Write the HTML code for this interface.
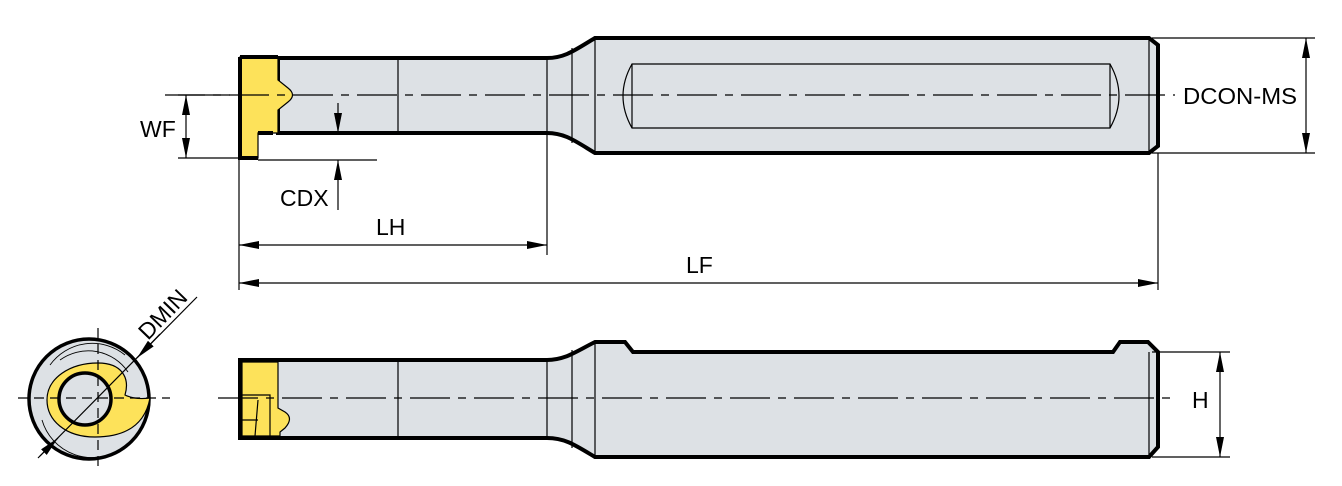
<!DOCTYPE html>
<html><head><meta charset="utf-8"><style>
html,body{margin:0;padding:0;background:#fff}
svg{display:block}
text{font-family:"Liberation Sans",sans-serif;font-size:23px;fill:#000}
</style></head><body>
<svg width="1342" height="486" viewBox="0 0 1342 486" xmlns="http://www.w3.org/2000/svg">
<defs>
<marker id="a" viewBox="0 0 20 8" refX="20" refY="4" markerWidth="20" markerHeight="8" markerUnits="userSpaceOnUse" orient="auto-start-reverse"><path d="M0,0 L20,4 L0,8 Z" fill="#000"/></marker>
</defs>
<g stroke="#000" fill="none">
<!-- TOP VIEW -->
<path d="M278,58 L547,58 C565,58 575,50 595,38 L1149,38 L1158,45 L1158,146 L1149,153 L595,153 C575,141 565,133 547,133 L278,133 Z" fill="#dde1e5" stroke-width="4"/>
<line x1="398" y1="58" x2="398" y2="133" stroke-width="1.2"/>
<line x1="547" y1="58" x2="547" y2="133" stroke-width="1.2"/>
<line x1="572" y1="48" x2="572" y2="143" stroke-width="1.2"/>
<line x1="595" y1="38" x2="595" y2="153" stroke-width="1.2"/>
<line x1="1149" y1="38" x2="1149" y2="153" stroke-width="1.2"/>
<path d="M632,64 L1110,64 Q1128,96 1110,128 L632,128 Q614,96 632,64 Z" stroke-width="1.2"/>
<line x1="632" y1="64" x2="632" y2="128" stroke-width="1.2"/>
<line x1="1110" y1="64" x2="1110" y2="128" stroke-width="1.2"/>
<path d="M240,57 L278,57 L278,80 L288,88 Q297,95 288,102 L278,110 L278,133 L258,133 L258,158 L240,158 Z" fill="#fde25a" stroke-width="1.2"/>
<path d="M240,57 L278,57 M240,57 L240,158 L258,158 M258,133 L273,133" stroke-width="4"/>
<line x1="165" y1="95" x2="1175" y2="95" stroke-width="1.2" stroke-dasharray="40,8,8,8"/>
<line x1="178" y1="95" x2="230" y2="95" stroke-width="1.2"/>
<line x1="178" y1="158" x2="240" y2="158" stroke-width="1.2"/>
<line x1="186" y1="95" x2="186" y2="158" stroke-width="1.2" marker-start="url(#a)" marker-end="url(#a)"/>
<line x1="258" y1="160" x2="377" y2="160" stroke-width="1.2"/>
<line x1="338" y1="103" x2="338" y2="133" stroke-width="1.2" marker-end="url(#a)"/>
<line x1="338" y1="210" x2="338" y2="160" stroke-width="1.2" marker-end="url(#a)"/>
<line x1="239" y1="160" x2="239" y2="290" stroke-width="1.2"/>
<line x1="547" y1="135" x2="547" y2="255" stroke-width="1.2"/>
<line x1="1158" y1="153" x2="1158" y2="290" stroke-width="1.2"/>
<line x1="239" y1="245" x2="547" y2="245" stroke-width="1.2" marker-start="url(#a)" marker-end="url(#a)"/>
<line x1="239" y1="283" x2="1158" y2="283" stroke-width="1.2" marker-start="url(#a)" marker-end="url(#a)"/>
<line x1="1152" y1="38" x2="1315" y2="38" stroke-width="1.2"/>
<line x1="1152" y1="153" x2="1315" y2="153" stroke-width="1.2"/>
<line x1="1306" y1="38" x2="1306" y2="153" stroke-width="1.2" marker-start="url(#a)" marker-end="url(#a)"/>

<!-- BOTTOM VIEW -->
<path d="M240,360 L547,360 C565,360 575,352 595,342 L625,342 L633,352 L1113,352 L1120,342 L1148,342 L1158,352 L1158,447 L1149,457 L595,457 C575,445 565,438 547,438 L240,438 Z" fill="#dde1e5" stroke-width="4"/>
<line x1="398" y1="360" x2="398" y2="438" stroke-width="1.2"/>
<line x1="547" y1="360" x2="547" y2="438" stroke-width="1.2"/>
<line x1="572" y1="350" x2="572" y2="448" stroke-width="1.2"/>
<line x1="595" y1="342" x2="595" y2="457" stroke-width="1.2"/>
<line x1="1149" y1="352" x2="1149" y2="457" stroke-width="1.2"/>
<path d="M242,362 L278,362 L278,408 L285,412 Q294,418 285,428 L280,432 L280,436 L242,436 Z" fill="#fde25a" stroke-width="1.2"/>
<path d="M242,395 L270,395 L270,436 M258,400 L255,436 M242,420 L258,420" stroke-width="1.2"/>
<path d="M240,360 L278,360 M240,360 L240,438 L278,438" stroke-width="4"/>
<line x1="218" y1="398" x2="1170" y2="398" stroke-width="1.2" stroke-dasharray="40,8,8,8"/>
<line x1="1152" y1="352" x2="1230" y2="352" stroke-width="1.2"/>
<line x1="1152" y1="457" x2="1230" y2="457" stroke-width="1.2"/>
<line x1="1220" y1="352" x2="1220" y2="457" stroke-width="1.2" marker-start="url(#a)" marker-end="url(#a)"/>

<!-- END VIEW -->
<circle cx="89" cy="399" r="60" fill="#dde1e5" stroke-width="3.5"/>
<path d="M50,365 A52,52 0 0 1 125,355" stroke-width="0.9"/>
<path d="M42,420 A52,52 0 0 0 122,448" stroke-width="0.9"/>
<path d="M60,360 A48,48 0 0 1 128,372" stroke-width="0.9"/>
<path d="M143,372 A58,58 0 0 1 140,432" stroke-width="0.9"/>
<path d="M98,363 C122,363 130,378 125,395 Q135,400 150,398 C145,425 125,437 95,437 C65,437 47,420 47,400 C47,378 70,363 98,363 Z" fill="#fde25a" stroke-width="1.2"/>
<circle cx="85" cy="399" r="26" fill="#dde1e5" stroke-width="3.5"/>
<line x1="18" y1="398" x2="170" y2="398" stroke-width="1.2" stroke-dasharray="10,6"/>
<line x1="98" y1="328" x2="98" y2="470" stroke-width="1.2" stroke-dasharray="10,6"/>
<line x1="38" y1="458" x2="197" y2="297" stroke-width="1.2"/>
<line x1="160" y1="334" x2="137" y2="358" stroke-width="1.2" marker-end="url(#a)"/>
<line x1="40" y1="456" x2="58" y2="438" stroke-width="1.2" marker-end="url(#a)"/>
</g>
<text x="140" y="137">WF</text>
<text x="280" y="206">CDX</text>
<text x="376" y="235">LH</text>
<text x="686" y="273">LF</text>
<text x="1183" y="104" textLength="114" lengthAdjust="spacingAndGlyphs">DCON-MS</text>
<text x="1192" y="408">H</text>
<text x="0" y="0" transform="translate(148,341) rotate(-46)">DMIN</text>
</svg>
</body></html>
